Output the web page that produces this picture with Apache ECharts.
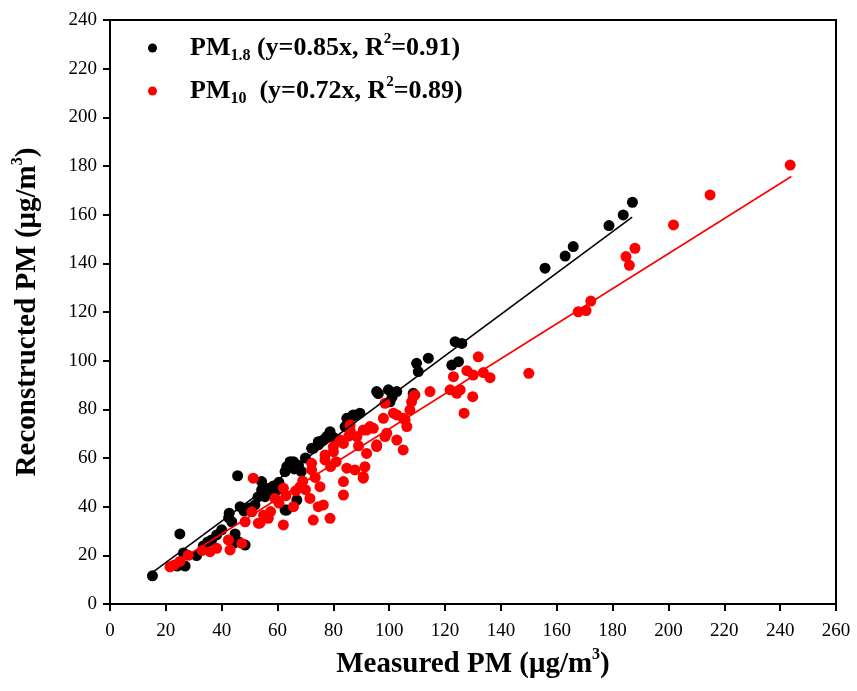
<!DOCTYPE html>
<html>
<head>
<meta charset="utf-8">
<script src="https://cdn.jsdelivr.net/npm/echarts@6/dist/echarts.min.js"></script>
<style>html,body{margin:0;padding:0;background:#fff}#c{width:857px;height:691px}</style>
</head>
<body>
<div id="c"></div>
<script>
// Tick labels
var xTicks = [0,20,40,60,80,100,120,140,160,180,200,220,240,260];
var yTicks = [0,20,40,60,80,100,120,140,160,180,200,220,240];

// PM1.8 points [measured, reconstructed]
var pm18 = [[15.2,11.6],[24.1,15.6],[25.0,28.8],[26.3,21.0],[26.9,15.6],[31.0,19.9],[33.4,23.8],[35.0,25.5],[36.4,26.3],[38.2,28.4],[40.0,30.5],[42.7,37.3],[43.6,33.8],[42.5,35.5],[44.8,28.8],[44.2,24.9],[46.0,25.6],[48.4,24.2],[45.7,52.7],[46.6,40.0],[48.0,38.2],[50.0,39.5],[51.9,40.7],[53.0,44.0],[54.3,46.9],[54.3,50.3],[55.5,44.1],[56.5,47.5],[57.5,46.0],[58.5,48.5],[59.5,46.5],[60.5,50.0],[62.7,38.6],[63.3,38.6],[62.7,54.4],[63.3,56.4],[64.5,58.5],[65.7,58.5],[66.0,55.5],[67.5,57.0],[68.5,54.5],[66.9,42.7],[70.0,60.0],[72.2,64.0],[72.8,64.0],[74.6,65.4],[74.6,66.7],[76.4,67.4],[77.6,68.8],[78.8,70.8],[80.0,68.5],[84.2,72.9],[84.8,76.3],[86.6,77.0],[87.1,77.7],[88.4,77.7],[89.5,78.4],[95.5,87.3],[96.1,86.5],[99.7,88.0],[100.3,83.1],[101.0,85.0],[102.7,87.3],[108.6,86.6],[109.8,98.9],[110.4,95.5],[114.0,101.0],[122.4,98.2],[124.8,99.6],[123.6,107.8],[126.0,107.1],[155.8,138.0],[163.0,143.0],[165.9,146.9],[178.7,155.5],[183.8,159.9],[187.1,165.1]];

// PM10 points [measured, reconstructed]
var pm10 = [[21.5,15.3],[23.0,16.0],[25.0,17.5],[28.0,20.0],[33.0,22.0],[35.8,21.5],[38.2,22.9],[42.4,26.3],[43.0,22.2],[47.2,24.9],[48.4,33.8],[50.8,37.9],[51.3,51.7],[53.1,33.2],[53.7,33.2],[55.0,36.5],[56.7,35.2],[57.5,38.0],[59.1,43.4],[60.5,41.5],[62.1,47.6],[62.1,32.5],[63.0,44.5],[65.7,40.0],[66.5,46.5],[68.1,48.2],[69.0,50.5],[70.0,47.0],[71.6,43.4],[72.2,55.1],[72.2,57.8],[72.8,34.5],[73.5,52.0],[74.6,40.0],[75.2,48.2],[76.4,40.7],[77.0,59.2],[77.0,61.2],[78.8,35.2],[79.0,56.5],[80.0,62.6],[80.0,64.7],[81.0,58.5],[82.4,67.4],[83.6,66.0],[83.6,50.3],[83.6,44.8],[84.8,55.8],[85.5,69.0],[86.0,73.6],[86.0,71.5],[87.7,55.1],[88.4,68.8],[89.0,65.0],[90.7,71.5],[90.7,51.7],[90.7,52.3],[91.3,56.4],[91.9,61.9],[91.9,71.5],[93.1,72.9],[94.3,72.2],[95.5,64.7],[95.5,65.4],[97.9,76.3],[98.5,82.5],[98.5,68.8],[99.1,70.2],[101.5,78.4],[102.7,77.7],[102.7,67.4],[105.0,76.3],[105.0,63.3],[105.7,75.6],[106.3,72.9],[107.4,79.7],[108.0,83.1],[108.6,85.2],[109.2,85.9],[114.6,87.3],[121.8,88.0],[123.0,93.4],[124.2,86.6],[125.4,88.0],[126.8,78.4],[127.8,95.9],[129.9,85.2],[130.1,94.1],[131.9,101.6],[133.7,95.1],[136.1,93.0],[150.0,94.8],[167.7,120.1],[170.5,120.6],[172.2,124.5],[184.8,142.8],[186.0,139.2],[188.0,146.2],[201.8,155.8],[214.9,168.1],[243.6,180.4]];

// Fit line endpoints
var fit18 = [[15,12.8],[187,159]];
var fit10 = [[21,15.1],[244,175.7]];

var serif = '"Liberation Serif","Times New Roman",serif';
var chart = echarts.init(document.getElementById('c'), null, {renderer:'canvas'});
var legendRich = {
  a:{fontFamily:serif,fontWeight:'bold',fontSize:26,color:'#000',lineHeight:32},
  pad:{fontFamily:serif,fontWeight:'bold',fontSize:26,color:'#000',lineHeight:32,padding:[0,0,0,28]},
  s:{fontFamily:serif,fontWeight:'bold',fontSize:16,color:'#000',lineHeight:14,verticalAlign:'bottom'},
  p:{fontFamily:serif,fontWeight:'bold',fontSize:15,color:'#000',lineHeight:14,verticalAlign:'top'}
};
var titleRich = {
  t:{fontFamily:serif,fontWeight:'bold',fontSize:29,color:'#000',lineHeight:36},
  p:{fontFamily:serif,fontWeight:'bold',fontSize:16,color:'#000',lineHeight:16,verticalAlign:'top'}
};
chart.setOption({
  animation:false,
  backgroundColor:'#fff',
  grid:{left:110,right:21,top:20,bottom:87,show:true,borderColor:'#000',borderWidth:2,backgroundColor:'transparent'},
  legend:{
    orient:'vertical',left:143,top:27,itemGap:11,icon:'circle',itemWidth:9,itemHeight:9,
    data:['PM1.8','PM10'],
    formatter:function(n){
      if(n==='PM1.8') return '{pad|PM}{s|1.8}{a| (y=0.85x, R}{p|2}{a|=0.91)}';
      return '{pad|PM}{s|10}{a|  (y=0.72x, R}{p|2}{a|=0.89)}';
    },
    textStyle:{rich:legendRich}
  },
  xAxis:{
    type:'value',min:0,max:260,interval:20,
    name:'{t|Measured PM (μg/m}{p|3}{t|)}',nameLocation:'middle',nameGap:43,
    nameTextStyle:{rich:titleRich},
    axisLine:{lineStyle:{color:'#000',width:2}},
    axisTick:{inside:false,length:7,lineStyle:{color:'#000',width:2}},
    axisLabel:{fontFamily:serif,fontSize:19,color:'#000',margin:18},
    splitLine:{show:false}
  },
  yAxis:{
    type:'value',min:0,max:240,interval:20,
    name:'{t|Reconstructed PM (μg/m}{p|3}{t|)}',nameLocation:'middle',nameGap:64,
    nameTextStyle:{rich:titleRich},
    axisLine:{lineStyle:{color:'#000',width:2}},
    axisTick:{inside:false,length:7,lineStyle:{color:'#000',width:2}},
    axisLabel:{fontFamily:serif,fontSize:19,color:'#000',margin:13},
    splitLine:{show:false}
  },
  series:[
    {name:'PM1.8',type:'scatter',data:pm18,symbol:'circle',symbolSize:11,itemStyle:{color:'#000',opacity:1},z:3},
    {name:'PM10',type:'scatter',data:pm10,symbol:'circle',symbolSize:11,itemStyle:{color:'#ff0000',opacity:1},z:4},
    {name:'fit18',type:'line',data:fit18,symbol:'none',lineStyle:{color:'#000',width:1.6},z:5},
    {name:'fit10',type:'line',data:fit10,symbol:'none',lineStyle:{color:'#ff0000',width:1.6},z:5}
  ]
});
</script>
</body>
</html>
